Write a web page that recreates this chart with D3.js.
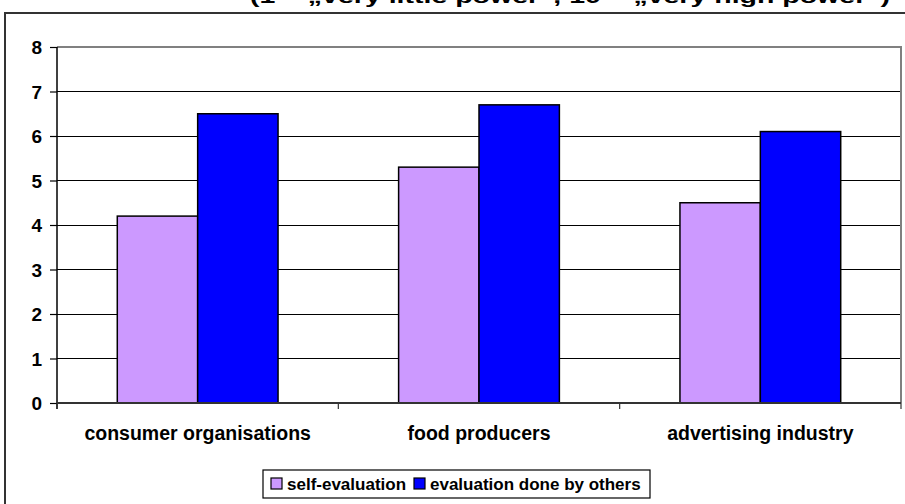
<!DOCTYPE html>
<html>
<head>
<meta charset="utf-8">
<script src="https://cdn.jsdelivr.net/npm/d3@7"></script>
<style>
  html, body { margin: 0; padding: 0; background: #fff; }
  svg { display: block; }
  text { font-family: Arial, "Liberation Sans", sans-serif; font-weight: bold; fill: #000; }
</style>
</head>
<body>
<svg id="chart" width="905" height="504"></svg>
<script>
// Power ratings by actor group: own rating vs. rating by the other groups
const categories = ["consumer organisations", "food producers", "advertising industry"];
const seriesNames = ["self-evaluation", "evaluation done by others"];
const selfEvaluation = [4.2, 5.3, 4.5];
const evaluationByOthers = [6.5, 6.7, 6.1];
const yTickValues = [0, 1, 2, 3, 4, 5, 6, 7, 8];
const titleText = "(1 = \u201Every little power\u201C, 10 = \u201Every high power\u201C)";

const colors = d3.scaleOrdinal().domain(seriesNames).range(["#CC99FF", "#0000FF"]);

const svg = d3.select("#chart");
const plot = { left: 57, right: 901, top: 47, bottom: 403 };

// outer chart frame (runs past the visible edges)
svg.append("rect")
  .attr("x", 5).attr("y", 13).attr("width", 920).attr("height", 520)
  .attr("fill", "#fff").attr("stroke", "#333").attr("stroke-width", 2);

// title, mostly above the top edge
svg.append("text")
  .attr("x", 250).attr("y", 3)
  .attr("textLength", 640).attr("lengthAdjust", "spacingAndGlyphs")
  .style("font-size", "18px")
  .text(titleText);

const x = d3.scaleBand().domain(categories).range([plot.left, plot.right]);
const xs = d3.scaleBand().domain(seriesNames).range([0, x.bandwidth()])
  .paddingInner(0).paddingOuter(0.75);
const y = d3.scaleLinear().domain([0, 8]).range([plot.bottom, plot.top]);

// horizontal gridlines
svg.append("g").selectAll("line")
  .data(yTickValues.filter(v => v > 0 && v < 8))
  .join("line")
  .attr("x1", plot.left).attr("x2", plot.right)
  .attr("y1", d => y(d)).attr("y2", d => y(d))
  .attr("stroke", "#000").attr("stroke-width", 1).attr("shape-rendering", "crispEdges");

// plot area border: top and right in grey
svg.append("path")
  .attr("d", `M${plot.left},${y(8)}H${plot.right}V${plot.bottom}`)
  .attr("fill", "none").attr("stroke", "#808080").attr("stroke-width", 2);

// bars
const rows = categories.map((c, i) => ({
  category: c,
  values: [
    { series: seriesNames[0], value: selfEvaluation[i] },
    { series: seriesNames[1], value: evaluationByOthers[i] }
  ]
}));

svg.append("g").selectAll("g")
  .data(rows)
  .join("g")
  .attr("transform", d => `translate(${x(d.category)},0)`)
  .selectAll("rect")
  .data(d => d.values)
  .join("rect")
  .attr("x", d => xs(d.series))
  .attr("width", xs.bandwidth())
  .attr("y", d => y(d.value))
  .attr("height", d => y(0) - y(d.value))
  .attr("fill", d => colors(d.series))
  .attr("stroke", "#000").attr("stroke-width", 1.5);

// y axis
const yAxis = svg.append("g")
  .attr("transform", `translate(${plot.left},0)`)
  .call(d3.axisLeft(y).tickValues(yTickValues).tickFormat(d3.format("d")).tickSize(7).tickPadding(8));
yAxis.select(".domain").attr("d", `M0,${plot.top}V${plot.bottom + 6}`).attr("stroke", "#000").attr("stroke-width", 1.5);
yAxis.selectAll(".tick line").attr("stroke", "#000").attr("stroke-width", 1.2);
yAxis.selectAll(".tick text").style("font-size", "19px").style("font-family", "Arial, 'Liberation Sans', sans-serif").attr("dy", "0.35em");

// x axis line with tick marks at category boundaries
svg.append("line")
  .attr("x1", plot.left).attr("x2", plot.right)
  .attr("y1", plot.bottom).attr("y2", plot.bottom)
  .attr("stroke", "#333").attr("stroke-width", 2);
const boundaries = categories.map(c => x(c)).concat([x(categories[categories.length - 1]) + x.bandwidth()]);
svg.append("g").selectAll("line")
  .data(boundaries)
  .join("line")
  .attr("x1", d => d).attr("x2", d => d)
  .attr("y1", plot.bottom).attr("y2", plot.bottom + 6)
  .attr("stroke", "#333").attr("stroke-width", 1.2);

// category labels
svg.append("g").selectAll("text")
  .data(categories)
  .join("text")
  .attr("x", d => x(d) + x.bandwidth() / 2)
  .attr("y", 440)
  .attr("text-anchor", "middle")
  .style("font-size", "19.5px")
  .text(d => d);

// legend
const legend = svg.append("g");
legend.append("rect")
  .attr("x", 263).attr("y", 470).attr("width", 387).attr("height", 28)
  .attr("fill", "#fff").attr("stroke", "#000").attr("stroke-width", 1.2);
const legendX = [271, 414];
const items = legend.selectAll("g.item")
  .data(seriesNames)
  .join("g").attr("class", "item")
  .attr("transform", (d, i) => `translate(${legendX[i]},478)`);
items.append("rect")
  .attr("width", 11).attr("height", 11)
  .attr("fill", d => colors(d)).attr("stroke", "#000").attr("stroke-width", 1.2);
items.append("text")
  .attr("x", 16).attr("y", 12)
  .style("font-size", "17px")
  .text(d => d);
</script>
</body>
</html>
